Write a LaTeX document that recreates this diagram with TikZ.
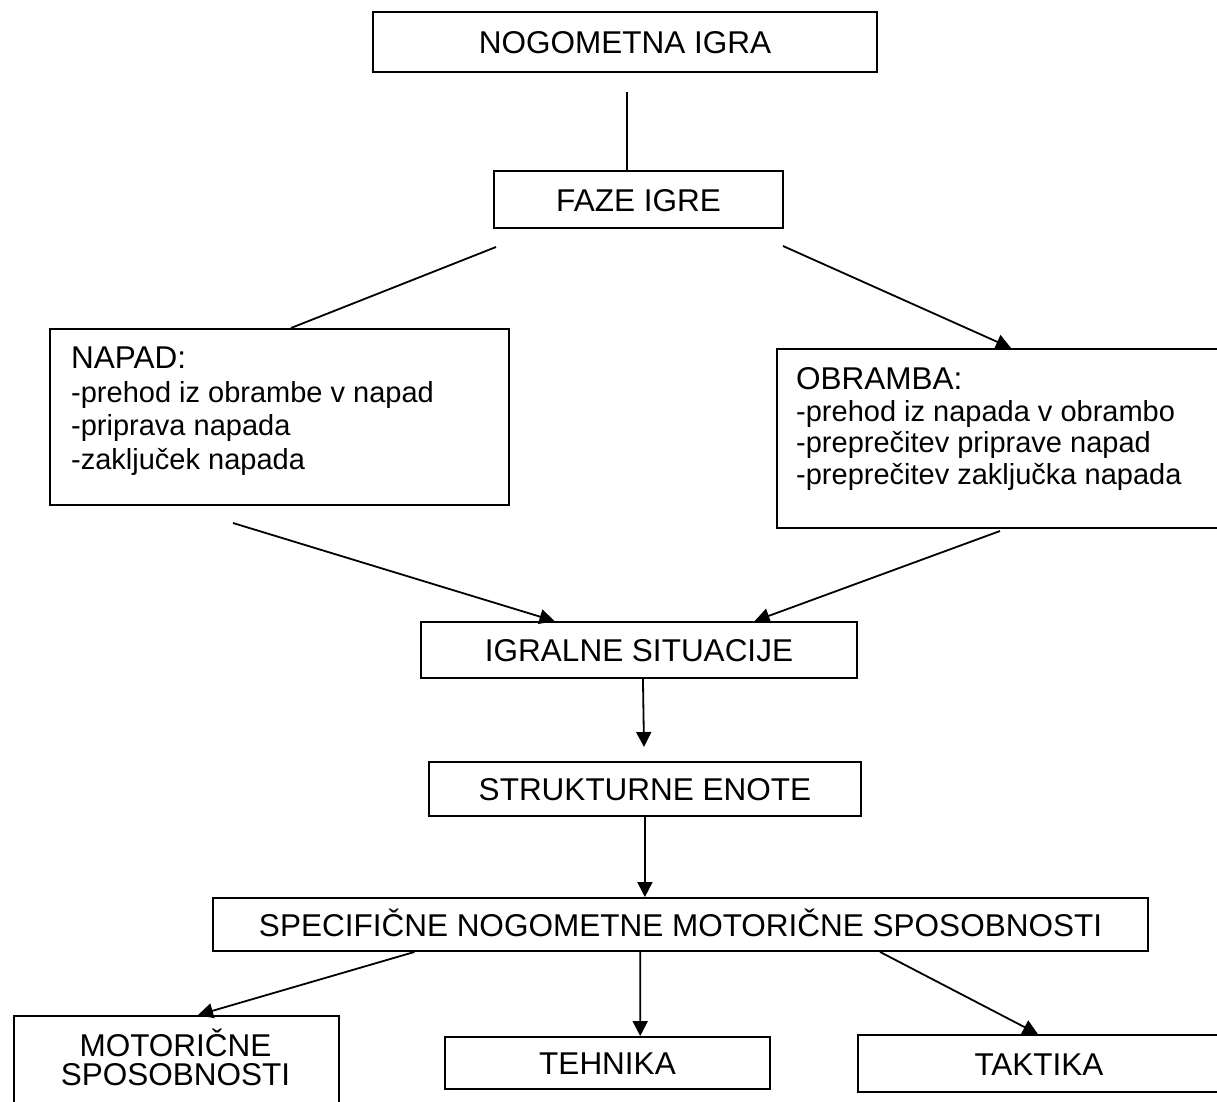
\documentclass[tikz,border=0pt]{standalone}
\usepackage{fontspec}
\setmainfont{Liberation Sans}
\usetikzlibrary{arrows.meta,calc}
\begin{document}
\begin{tikzpicture}[x=1pt,y=-1pt,
  big/.style={font=\fontsize{31.5}{29}\selectfont},
  small/.style={font=\fontsize{29}{32}\selectfont},
  box/.style={draw, line width=1.9pt, inner sep=0pt, big, text height=23pt, text depth=0pt, align=center},
  frame/.style={draw, line width=1.9pt, inner sep=0pt, anchor=north west},
  txt/.style={inner sep=0pt, anchor=base west},
  ctxt/.style={inner sep=0pt, anchor=base, big},
  conn/.style={line width=1.8pt},
  arr/.style={conn, -{Triangle[length=15pt,width=15pt]}}]
\useasboundingbox (0,0) rectangle (1217,1101);
\fill[white] (0,0) rectangle (1217,1101);

% boxes
\node[box, minimum width=504pt, minimum height=60pt] (nogo) at (625,42) {NOGOMETNA IGRA};
\node[box, minimum width=289pt, minimum height=57pt] (faze) at (638.5,199.5) {FAZE IGRE};
\node[frame, minimum width=459pt, minimum height=176pt] (napad) at (49,328) {};
\node[frame, minimum width=444pt, minimum height=179pt] (obramba) at (776,348) {};
\node[box, minimum width=436pt, minimum height=56pt] (igralne) at (639,650) {IGRALNE SITUACIJE};
\node[box, minimum width=432pt, minimum height=54pt] (strukt) at (645,789) {STRUKTURNE ENOTE};
\node[box, minimum width=935pt, minimum height=53pt] (spec) at (680.5,924.5) {SPECIFIČNE NOGOMETNE MOTORIČNE SPOSOBNOSTI};
\node[frame, minimum width=325pt, minimum height=110pt] (motor) at (13,1015) {};
\node[box, minimum width=325pt, minimum height=52pt] (tehnika) at (607.5,1063) {TEHNIKA};
\node[box, minimum width=362pt, minimum height=57pt] (taktika) at (1039,1063.5) {TAKTIKA};

% texts inside framed boxes
\node[txt, big] (napad0) at (71,368) {NAPAD:};
\node[txt, small] (napad1) at (71,402) {-prehod iz obrambe v napad};
\node[txt, small] (napad2) at (71,435.5) {-priprava napada};
\node[txt, small] (napad3) at (71,469) {-zaključek napada};
\node[txt, big] (obr0) at (796,389) {OBRAMBA:};
\node[txt, small] (obr1) at (796,421) {-prehod iz napada v obrambo};
\node[txt, small] (obr2) at (796,452.5) {-preprečitev priprave napad};
\node[txt, small] (obr3) at (796,484) {-preprečitev zaključka napada};
\node[ctxt] (motor1) at (175.5,1056) {MOTORIČNE};
\node[ctxt] (motor2) at (175.5,1085) {SPOSOBNOSTI};

% free ends
\coordinate (s1) at (627,92);
\coordinate (s2) at (496,247);
\coordinate (s3) at (783,246);
\coordinate (s4) at (233,523);
\coordinate (s5) at (1000,531);
\coordinate (e6) at (644,747);

% connectors
\draw[conn] (s1) -- (s1 |- faze.north);
\draw[conn] (s2) -- ($(napad.north west)!0.525!(napad.north east)$);
\draw[arr] (s3) -- ($(obramba.north west)!0.527!(obramba.north east)$);
\draw[arr] (s4) -- ($(igralne.north west)!0.307!(igralne.north east)$);
\draw[arr] (s5) -- ($(igralne.north west)!0.764!(igralne.north east)$);
\draw[arr] ($(igralne.south west)!0.509!(igralne.south east)$) -- (e6);
\draw[arr] ($(strukt.south west)!0.5!(strukt.south east)$) -- ($(spec.north west)!0.462!(spec.north east)$);
\draw[arr] ($(spec.south west)!0.216!(spec.south east)$) -- ($(motor.north west)!0.566!(motor.north east)$);
\draw[arr] ($(spec.south west)!0.457!(spec.south east)$) -- ($(tehnika.north west)!0.6!(tehnika.north east)$);
\draw[arr] ($(spec.south west)!0.713!(spec.south east)$) -- ($(taktika.north west)!0.497!(taktika.north east)$);
\end{tikzpicture}
\end{document}
